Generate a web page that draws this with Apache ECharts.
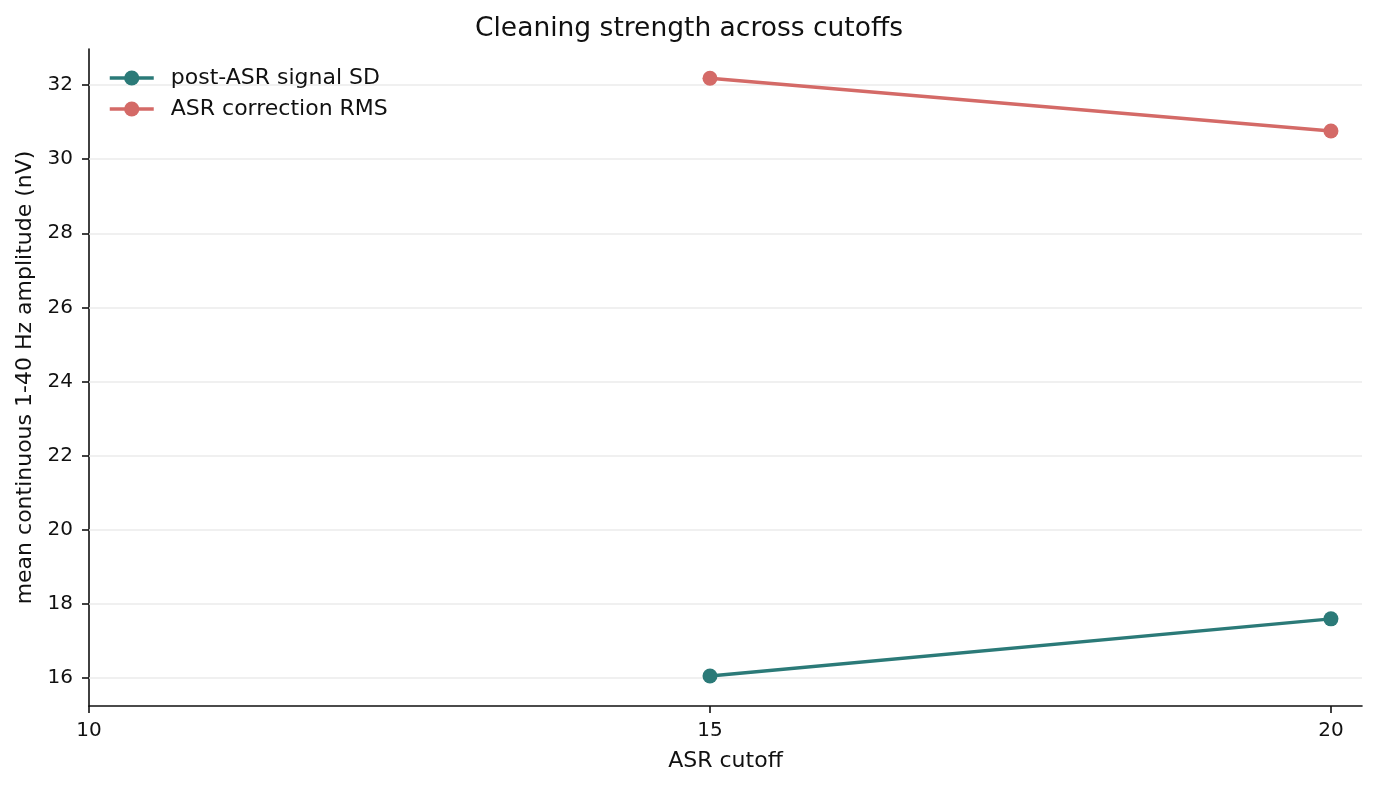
<!DOCTYPE html>
<html>
<head>
<meta charset="utf-8">
<script src="https://cdn.jsdelivr.net/npm/echarts@6/dist/echarts.min.js"></script>
<style>
  html, body { margin: 0; padding: 0; background: #fff; }
  #chart { width: 1378px; height: 786px; }
</style>
</head>
<body>
<div id="chart"></div>
<script>
// ASR cutoff values and per-series means
const cutoffs = [15, 20]
const signalSD = [16.06, 17.60]
const correctionRMS = [32.18, 30.76]
const xTicks = [10, 15, 20]
const yTicks = [16, 18, 20, 22, 24, 26, 28, 30, 32]

const TEAL = '#2b7a78'
const RED = '#d46a67'
const FONT = 'DejaVu Sans'

let chart = echarts.init(document.getElementById('chart'))

chart.setOption({
  animation: false,
  textStyle: { fontFamily: FONT },
  title: {
    text: 'Cleaning strength across cutoffs',
    left: 'center',
    top: 11,
    textStyle: { fontSize: 26.5, fontWeight: 'normal', color: '#111', fontFamily: FONT }
  },
  legend: {
    orient: 'vertical',
    left: 103,
    top: 62,
    itemWidth: 44,
    itemHeight: 19,
    itemGap: 9,
    lineStyle: { width: 3.5 },
    textStyle: { fontSize: 22, color: '#111', fontFamily: FONT, padding: [0, 0, 0, 12] },
    data: ['post-ASR signal SD', 'ASR correction RMS']
  },
  grid: { left: 89, right: 16, top: 49, bottom: 80 },
  xAxis: {
    type: 'value',
    min: 10,
    max: 20.25,
    name: 'ASR cutoff',
    nameLocation: 'middle',
    nameGap: 44,
    nameTextStyle: { fontSize: 22, color: '#111' },
    axisLine: { lineStyle: { color: '#111', width: 1.6 } },
    axisTick: { show: true, length: 7, customValues: xTicks, lineStyle: { color: '#111', width: 1.6 } },
    axisLabel: { customValues: xTicks, fontSize: 20, color: '#111', margin: 15 },
    splitLine: { show: false }
  },
  yAxis: {
    type: 'value',
    min: 15.25,
    max: 32.97,
    name: 'mean continuous 1-40 Hz amplitude (nV)',
    nameLocation: 'middle',
    nameGap: 50,
    nameTextStyle: { fontSize: 22, color: '#111' },
    axisLine: { show: true, lineStyle: { color: '#111', width: 1.6 } },
    axisTick: { show: true, length: 7, customValues: yTicks, lineStyle: { color: '#111', width: 1.6 } },
    axisLabel: { customValues: yTicks, fontSize: 20, color: '#111', margin: 16 },
    splitLine: { show: false }
  },
  series: [
    {
      name: 'post-ASR signal SD',
      type: 'line',
      data: cutoffs.map((c, i) => [c, signalSD[i]]),
      symbol: 'circle',
      symbolSize: 15,
      color: TEAL,
      lineStyle: { width: 3.5, color: TEAL },
      itemStyle: { color: TEAL },
      z: 3,
      markLine: {
        silent: true,
        symbol: 'none',
        label: { show: false },
        lineStyle: { color: '#ebebeb', width: 1.6, type: 'solid' },
        data: yTicks.map(v => ({ yAxis: v })),
        z: 1
      }
    },
    {
      name: 'ASR correction RMS',
      type: 'line',
      data: cutoffs.map((c, i) => [c, correctionRMS[i]]),
      symbol: 'circle',
      symbolSize: 15,
      color: RED,
      lineStyle: { width: 3.5, color: RED },
      itemStyle: { color: RED },
      z: 3
    }
  ]
})
</script>
</body>
</html>
